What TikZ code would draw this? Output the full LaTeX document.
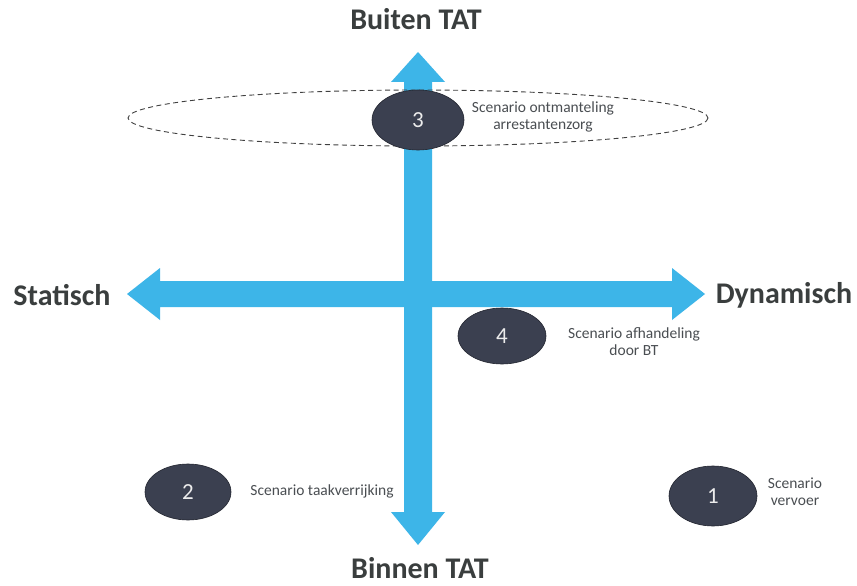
\documentclass[tikz,border=0pt]{standalone}
\usepackage{fontspec}
\setmainfont{Carlito}
\usetikzlibrary{shapes.geometric}
\definecolor{arrowblue}{HTML}{3DB5E8}
\definecolor{blobfill}{HTML}{3B4050}
\definecolor{titlegray}{HTML}{3A3E3E}
\definecolor{smallgray}{HTML}{4A4E52}
\begin{document}
\begin{tikzpicture}[x=1pt,y=-1pt,
  blob/.style={ellipse,fill=blobfill,draw=blobfill!60!black,line width=0.6pt,inner sep=0pt,text=white!85!gray,font=\fontsize{23}{23}\selectfont},
  axislabel/.style={font=\fontsize{30}{30}\selectfont\bfseries,text=titlegray},
  caption/.style={font=\fontsize{15.5}{17}\selectfont,text=smallgray,align=center}]
\useasboundingbox (0,0) rectangle (857,586);
\fill[white] (0,0) rectangle (857,586);
% horizontal arrow
\fill[arrowblue] (127,294) -- (160,268) -- (160,281) -- (672,281) -- (672,268) -- (705,294) -- (672,320) -- (672,307) -- (160,307) -- (160,320) -- cycle;
% vertical arrow
\fill[arrowblue] (418,52) -- (445,82) -- (432,82) -- (432,512) -- (445,512) -- (418,545) -- (391,512) -- (404,512) -- (404,82) -- (391,82) -- cycle;
% dashed ellipse
\draw[dash pattern=on 5pt off 3.5pt,line width=0.9pt,color=black!75] (418,118) ellipse [x radius=290, y radius=28];
% blobs
\node[blob,minimum width=92pt,minimum height=60pt] (b3) at (418,120) {3};
\node[caption] (c3) at (543,117) {Scenario ontmanteling\\arrestantenzorg};
\node[blob,minimum width=88pt,minimum height=56pt] (b4) at (502,336) {4};
\node[caption] (c4) at (634,342) {Scenario afhandeling\\door BT};
\node[blob,minimum width=86pt,minimum height=56pt] (b2) at (188,492) {2};
\node[caption] (c2) at (322,491) {Scenario taakverrijking};
\node[blob,minimum width=88pt,minimum height=60pt] (b1) at (713,496) {1};
\node[caption] (c1) at (795,492) {Scenario\\vervoer};
% axis labels
\node[axislabel] (top) at (416,19) {Buiten TAT};
\node[axislabel] (bottom) at (420,568) {Binnen TAT};
\node[axislabel] (left) at (62,295) {Statisch};
\node[axislabel] (right) at (784,295) {Dynamisch};
\end{tikzpicture}
\end{document}
